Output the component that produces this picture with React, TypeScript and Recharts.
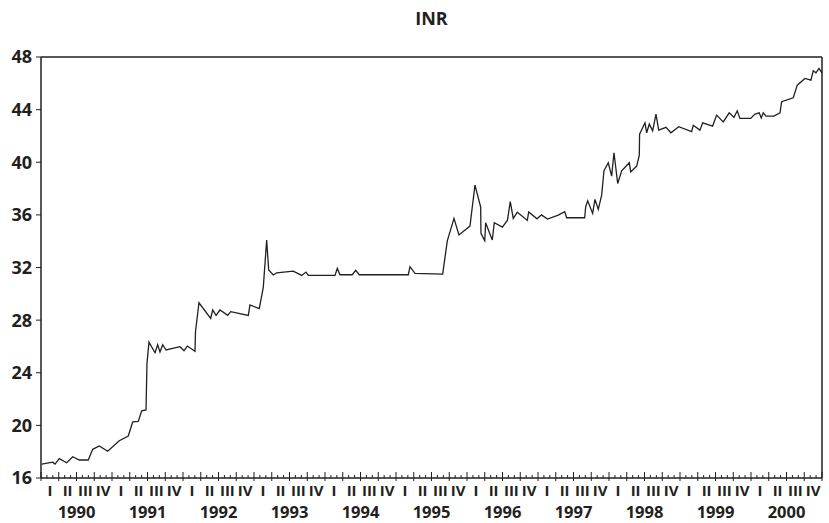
import { Line, LineChart, ReferenceLine, XAxis, YAxis } from "recharts";

// observation time, in months since Jan 1990
const months = [
  0.12, 1.98, 2.37, 3.09, 4.34, 5.36, 6.47, 7.99, 8.74, 9.85, 11.27, 13.23, 14.75, 15.5, 16.44, 17.02,
  17.75, 17.91, 18.25, 19.27, 19.72, 20.11, 20.57, 21.13, 23.49, 24.17, 24.73, 26.03, 26.11, 26.7,
  28.68, 29.02, 29.58, 30.25, 31.55, 32.06, 35.04, 35.32, 36.89, 37.57, 38.14, 38.48, 39.26, 39.83,
  42.64, 44.06, 44.79, 45.18, 49.69, 50.08, 50.53, 52.61, 53.19, 53.79, 62.08, 62.36, 63.21, 67.89,
  68.67, 69.8, 70.64, 72.5, 73.35, 74.31, 74.36, 75.0, 75.15, 76.27, 76.61, 77.99, 78.84, 79.31,
  79.82, 80.5, 82.19, 82.43, 83.83, 84.59, 85.6, 87.43, 88.51, 88.85, 91.89, 92.06, 92.4, 93.24,
  93.63, 94.19, 94.76, 95.15, 95.88, 96.45, 96.84, 97.47, 98.14, 99.43, 99.67, 100.68, 101.12,
  101.17, 102.08, 102.37, 102.81, 103.38, 103.94, 104.4, 105.63, 106.47, 107.78, 109.97, 110.24,
  111.37, 111.83, 113.52, 114.19, 115.31, 116.32, 117.12, 117.68, 118.13, 119.94, 120.67, 121.39,
  121.73, 122.07, 122.53, 123.88, 124.9, 125.18, 127.14, 127.82, 129.12, 130.13, 130.52, 130.98,
  131.49, 131.99,
];

// rupees per US dollar
const inr = [
  17.06, 17.2, 17.06, 17.47, 17.16, 17.62, 17.37, 17.37, 18.18, 18.43, 18.03, 18.83, 19.19, 20.26, 20.3, 21.1,
  21.17, 24.7, 26.33, 25.52, 26.13, 25.57, 26.13, 25.73, 25.98, 25.67, 26.03, 25.63, 27.12, 29.32,
  28.13, 28.77, 28.36, 28.77, 28.36, 28.64, 28.36, 29.15, 28.87, 30.49, 34.09, 31.81, 31.43, 31.6,
  31.73, 31.4, 31.65, 31.4, 31.4, 31.93, 31.45, 31.45, 31.78, 31.45, 31.45, 32.06, 31.55, 31.5,
  34.03, 35.73, 34.47, 35.15, 38.26, 36.6, 34.6, 34.03, 35.4, 34.09, 35.4, 35.07, 35.6, 37.0,
  35.73, 36.2, 35.58, 36.22, 35.7, 36.0, 35.68, 35.98, 36.24, 35.78, 35.78, 36.62, 37.07, 36.11,
  37.18, 36.42, 37.5, 39.35, 39.96, 38.95, 40.72, 38.39, 39.35, 39.96, 39.27, 39.71, 40.54,
  42.14, 43.0, 42.24, 42.9, 42.4, 43.66, 42.44, 42.65, 42.24, 42.7, 42.33, 42.81,
  42.44, 43.0, 42.75, 43.58, 43.07, 43.76, 43.41, 43.91, 43.33, 43.33, 43.66, 43.76,
  43.36, 43.76, 43.51, 43.51, 43.76, 44.6, 44.9, 45.86, 46.37, 46.24, 46.95, 46.8,
  47.13, 46.8,
];

const years = ["1990", "1991", "1992", "1993", "1994", "1995", "1996", "1997", "1998", "1999", "2000"];
const quarters = ["I", "II", "III", "IV"];
const yTicks = [16, 20, 24, 28, 32, 36, 40, 44, 48];

const data = months.map((m, i) => ({ m, inr: inr[i] }));

// month boundaries get tick marks, half-month points in the middle of each quarter carry the roman numeral
const monthTicks = Array.from({ length: years.length * 12 + 1 }, (_, i) => i);
const quarterMids = Array.from({ length: years.length * 4 }, (_, q) => q * 3 + 1.5);
const xTicks = [...monthTicks, ...quarterMids].sort((a, b) => a - b);

const INK = "#231f20";
const FONT = "'Open Sans', sans-serif";

function TimeTick({ x, y, payload }: any) {
  const v = payload.value as number;
  if (Number.isInteger(v)) {
    const quarterStart = v % 3 === 0;
    return (
      <g>
        <line x1={x} x2={x} y1={quarterStart ? y - 6 : y - 3} y2={quarterStart ? y + 3 : y} stroke={INK} strokeWidth={1} />
        {v % 12 === 6 && (
          <text x={x} y={y + 40} textAnchor="middle" fontFamily={FONT} fontWeight={700} fontSize={16.5} fill={INK}>
            {years[(v - 6) / 12]}
          </text>
        )}
      </g>
    );
  }
  return (
    <text x={x} y={y + 17.5} textAnchor="middle" fontFamily={FONT} fontWeight={700} fontSize={15} fill={INK}>
      {quarters[Math.floor(v / 3) % 4]}
    </text>
  );
}

export default function App() {
  return (
    <div style={{ position: "absolute", left: 0, top: 0, width: 829, height: 523, background: "#fff" }}>
      <div
        style={{
          position: "absolute",
          left: 41,
          width: 781,
          top: 6,
          textAlign: "center",
          fontFamily: FONT,
          fontWeight: 700,
          fontSize: 18,
          color: INK,
        }}
      >
        INR
      </div>
      <LineChart width={829} height={523} data={data} margin={{ top: 57, right: 7, bottom: 0, left: 0 }}>
        <XAxis
          dataKey="m"
          type="number"
          domain={[0, years.length * 12]}
          ticks={xTicks}
          interval={0}
          height={45}
          tickSize={0}
          tickMargin={0}
          tickLine={false}
          axisLine={{ stroke: INK, strokeWidth: 1.5 }}
          tick={<TimeTick />}
        />
        <YAxis
          type="number"
          domain={[16, 48]}
          ticks={yTicks}
          interval={0}
          width={41}
          tickSize={5}
          tickMargin={4}
          axisLine={{ stroke: INK, strokeWidth: 1.5 }}
          tickLine={{ stroke: INK }}
          tick={{ fontFamily: FONT, fontWeight: 700, fontSize: 18, fill: INK }}
        />
        <ReferenceLine y={48} stroke={INK} strokeWidth={1.5} />
        <ReferenceLine x={years.length * 12} stroke={INK} strokeWidth={1.5} />
        <Line
          type="linear"
          dataKey="inr"
          stroke={INK}
          strokeWidth={1.3}
          dot={false}
          isAnimationActive={false}
        />
      </LineChart>
    </div>
  );
}
